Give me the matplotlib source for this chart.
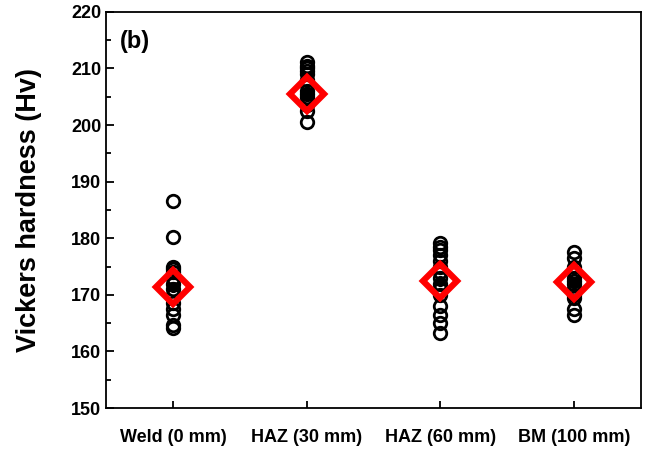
import numpy as np
import matplotlib.pyplot as plt

plt.rcParams['font.family'] = ['Liberation Sans', 'DejaVu Sans']
plt.rcParams['font.weight'] = 'bold'

categories = ['Weld (0 mm)', 'HAZ (30 mm)', 'HAZ (60 mm)', 'BM (100 mm)']
weld = [164.2, 164.6, 166.5, 167.5, 168.5, 170.0, 171.0, 172.0, 173.0, 174.0, 174.5, 175.0, 180.2, 186.6]
haz30 = [200.6, 202.5, 203.5, 204.0, 205.0, 205.5, 206.0, 207.0, 208.0, 209.0, 209.5, 210.0, 210.5, 211.2]
haz60 = [163.3, 165.0, 166.5, 168.0, 170.0, 171.0, 172.0, 173.0, 174.0, 175.0, 176.0, 177.0, 178.0, 178.5, 179.2]
bm = [166.5, 167.5, 169.5, 170.0, 171.0, 172.0, 172.5, 173.0, 174.0, 175.0, 176.5, 177.5]
means = [171.4, 205.5, 172.4, 172.3]

groups = [weld, haz30, haz60, bm]

fig = plt.figure(figsize=(6.52, 4.57), dpi=100)
ax = fig.add_axes([0.163, 0.107, 0.820, 0.867])

for i, g in enumerate(groups):
    ax.plot([i + 1] * len(g), g, 'o', mfc='none', mec='k', ms=9, mew=2)

x = np.arange(1, len(categories) + 1)
ax.plot(x, means, 'o', color='k', ms=7)
ax.plot(x, means, 'D', mfc='none', mec='red', ms=17, mew=4.5)

ax.set_xlim(0.5, 4.5)
ax.set_ylim(150, 220)
ax.set_xticks(x)
ax.set_xticklabels(categories, fontsize=13, fontweight='bold')
ax.set_yticks(np.arange(150, 221, 10))
ax.set_yticks(np.arange(155, 220, 10), minor=True)
ax.tick_params(axis='y', which='both', direction='in', labelsize=13, width=1.3)
ax.tick_params(axis='y', which='major', length=6)
ax.tick_params(axis='y', which='minor', length=3.5)
ax.tick_params(axis='x', direction='in', length=5, width=1.3, pad=15)
for s in ax.spines.values():
    s.set_linewidth(1.3)

ax.set_ylabel('Vickers hardness (Hv)', fontsize=19.5, fontweight='bold', labelpad=21)
ax.text(0.025, 0.955, '(b)', transform=ax.transAxes, fontsize=17, fontweight='bold', va='top')

fig.savefig('out.png', dpi=100)
